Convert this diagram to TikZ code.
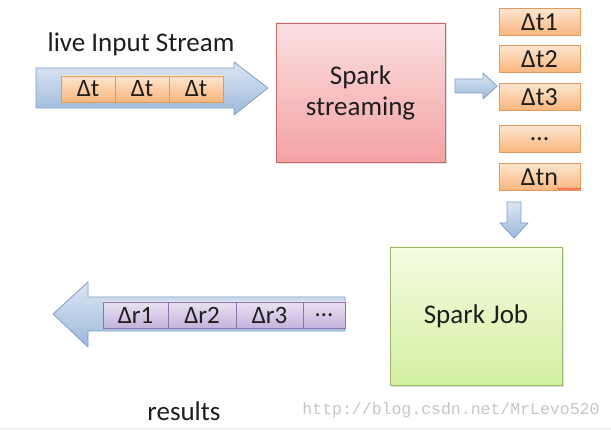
\documentclass[tikz,border=0pt]{standalone}
\usepackage{fontspec}
\setmainfont{Carlito}
\newfontfamily\wmfont{Liberation Mono}
\usetikzlibrary{shadows,decorations.pathmorphing}

\definecolor{textdark}{HTML}{1E1E1E}
\definecolor{arrowline}{HTML}{7F9FCA}
\definecolor{arrowtop}{HTML}{DCE6F2}
\definecolor{arrowbottom}{HTML}{9DB9DB}
\definecolor{tline}{HTML}{E09A5C}
\definecolor{ttop}{HTML}{FDE6D0}
\definecolor{tbottom}{HTML}{FAB57C}
\definecolor{rline}{HTML}{8C74A8}
\definecolor{rtop}{HTML}{EAE2F2}
\definecolor{rbottom}{HTML}{C4B2DC}
\definecolor{sline}{HTML}{C46A6A}
\definecolor{stop}{HTML}{FBE0E0}
\definecolor{sbottom}{HTML}{F4A2A4}
\definecolor{jline}{HTML}{9DB86C}
\definecolor{jtop}{HTML}{F5FCE2}
\definecolor{jbottom}{HTML}{D2EFA0}

\tikzset{
  blockarrow/.style={draw=arrowline, top color=arrowtop, bottom color=arrowbottom,
    line width=0.8pt, line join=round},
  tbox/.style={draw=tline, top color=ttop, bottom color=tbottom, line width=0.8pt,
    minimum height=26pt, inner sep=0pt, text=textdark, font=\fontsize{25}{27}\selectfont},
  rbox/.style={tbox, draw=rline, top color=rtop, bottom color=rbottom},
  bigbox/.style={line width=0.8pt, inner sep=0pt, align=center, text=textdark,
    font=\fontsize{27}{31}\selectfont,
    drop shadow={shadow xshift=2pt, shadow yshift=-2pt, opacity=0.25}},
  caption/.style={text=textdark, font=\fontsize{27}{29}\selectfont}
}

\begin{document}
\begin{tikzpicture}[x=1pt, y=-1pt]

    \fill[white] (0,0) rectangle (611,430);
    \useasboundingbox (0,0) rectangle (611,430);

    % --- live input stream ---
    \node[caption] (livelabel) at (141,44) {live Input Stream};
    \draw[blockarrow] (36,68) -- (234,68) -- (234,62) -- (268,88)
        -- (234,115) -- (234,108) -- (36,108) -- cycle;
    \foreach \i/\x in {1/88, 2/142, 3/196}
        \node[tbox, minimum width=54pt] (in\i) at (\x,89) {Δt};

    % --- Spark streaming ---
    \node[bigbox, draw=sline, top color=stop, bottom color=sbottom,
        minimum width=169pt, minimum height=139pt] (stream) at (360.5,92.5)
        {Spark\\streaming};
    \draw[blockarrow] (455,79) -- (483,79) -- (483,73) -- (497,86)
        -- (483,99) -- (483,93) -- (455,93) -- cycle;

    % --- batches ---
    \foreach \name/\y/\txt in {dt1/22/Δt1, dt2/59/Δt2, dt3/97/Δt3, dtdots/139/…, dtn/177/Δtn}
        \node[tbox, minimum width=81pt, minimum height=27pt,
            font=\fontsize{26}{28}\selectfont] (\name) at (539.5,\y) {\txt};
    \draw[red!80, line width=0.6pt, decorate,
        decoration={snake, amplitude=0.8pt, segment length=3pt}]
        ([xshift=-1pt]dtn.south east) ++(-22,-2) coordinate (sqa) -- ++(23,0) coordinate (sqb);

    % --- to the job ---
    \draw[blockarrow] (507,202) -- (521,202) -- (521,223) -- (528,223)
        -- (514,238) -- (500,223) -- (507,223) -- cycle;

    % --- Spark Job ---
    \node[bigbox, draw=jline, top color=jtop, bottom color=jbottom,
        minimum width=172pt, minimum height=138pt] (job) at (476,316) {Spark Job};

    % --- results ---
    \draw[blockarrow] (345,297) -- (88,297) -- (88,282) -- (53,314)
        -- (88,347) -- (88,331) -- (345,331) -- cycle;
    \foreach \name/\x/\w/\txt in {r1/135.5/65/Δr1, r2/202/68/Δr2, r3/269.5/67/Δr3, rdots/324/42/…}
        \node[rbox, minimum width=\w pt] (\name) at (\x,315) {\txt};
    \node[caption] (reslabel) at (184,411) {results};

    % --- watermark ---
    \node[text=gray!45, font=\wmfont\fontsize{16.5}{18}\selectfont] (mark) at (451,410)
        {http://blog.csdn.net/MrLevo520};
    \draw[gray!20] (0,428) -- (611,428);

\end{tikzpicture}
\end{document}
